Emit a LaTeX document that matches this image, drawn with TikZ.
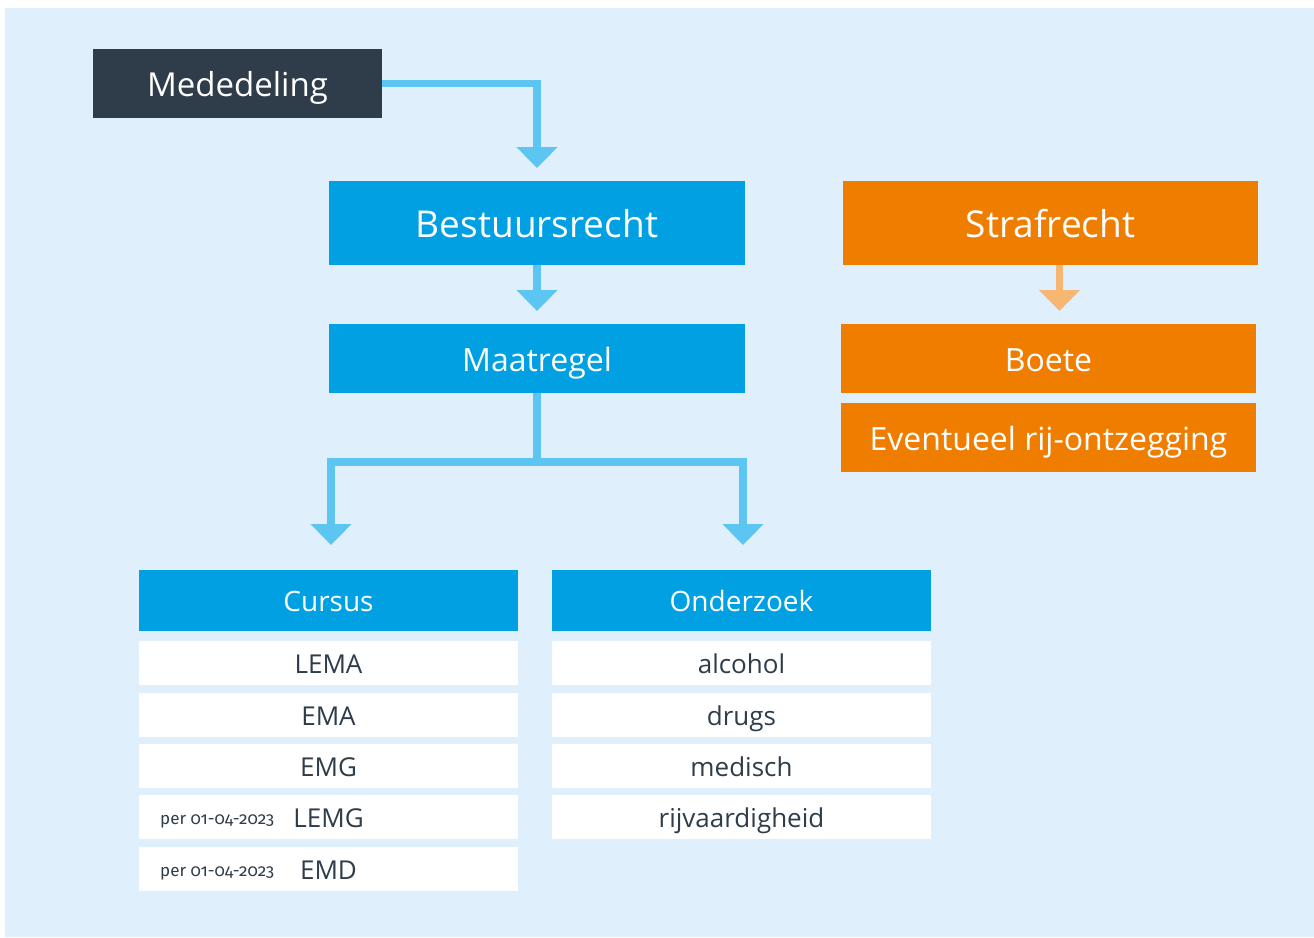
\documentclass[tikz,border=0pt]{standalone}
\usepackage{fontspec}
\setmainfont{Open Sans}
\newfontfamily\perfont[Numbers=OldStyle]{Fira Sans}
\usetikzlibrary{arrows.meta}
\definecolor{bgblue}{HTML}{DFF0FC}
\definecolor{boxblue}{HTML}{00A0E3}
\definecolor{arrblue}{HTML}{5DC5F2}
\definecolor{darkbox}{HTML}{2F3D4A}
\definecolor{orangebox}{HTML}{EF7D00}
\definecolor{arrorange}{HTML}{F8B673}
\tikzset{
  fs/.style n args={3}{font=\fontsize{#1}{#1}\selectfont, text height=#2pt, text depth=#3pt},
  box/.style={rectangle, inner sep=0pt, outer sep=0pt, text=white},
  rowbox/.style={rectangle, fill=white, inner sep=0pt, outer sep=0pt, text=darkbox,
    minimum width=379pt, minimum height=44pt, fs={26}{23.4}{2.6}},
  headbox/.style={box, fill=boxblue, minimum width=379pt, minimum height=61pt, fs={28}{25.2}{2.8}},
  pertext/.style={inner sep=0pt, text=darkbox, font=\perfont\fontsize{17}{19}\selectfont},
  conn/.style={line width=7.5pt, arrblue, -{Triangle[width=40pt,length=21pt]}},
  connor/.style={line width=7.5pt, arrorange, -{Triangle[width=40pt,length=21pt]}},
}
\begin{document}
\begin{tikzpicture}[x=1pt,y=-1pt]
\useasboundingbox (0,0) rectangle (1314,937);
\fill[white] (0,0) rectangle (1314,937);
\fill[bgblue] (5,8) rectangle (1314,937);

\node[box, fill=darkbox, minimum width=289pt, minimum height=69pt, fs={33}{29.7}{3.3}] (med) at (237.5,83.5) {Mededeling};
\node[box, fill=boxblue, minimum width=416pt, minimum height=84pt, fs={37}{33.3}{3.7}] (best) at (537,223) {Bestuursrecht};
\node[box, fill=orangebox, minimum width=415pt, minimum height=84pt, fs={37}{33.3}{3.7}] (straf) at (1050.5,223) {Strafrecht};
\node[box, fill=boxblue, minimum width=416pt, minimum height=69pt, fs={32}{28.8}{3.2}] (maat) at (537,358.5) {Maatregel};
\node[box, fill=orangebox, minimum width=415pt, minimum height=69pt, fs={32}{28.8}{3.2}] (boete) at (1048.5,358.5) {Boete};
\node[box, fill=orangebox, minimum width=415pt, minimum height=69pt, fs={32}{28.8}{3.2}] (event) at (1048.5,437.5) {Eventueel rij-ontzegging};

\node[headbox] (cursus) at (328.5,600.5) {Cursus};
\node[rowbox] (lema) at (328.5,663) {LEMA};
\node[rowbox] (ema) at (328.5,715) {EMA};
\node[rowbox] (emg) at (328.5,766) {EMG};
\node[rowbox] (lemg) at (328.5,817) {LEMG};
\node[rowbox] (emd) at (328.5,869) {EMD};

\node[headbox] (onder) at (741.5,600.5) {Onderzoek};
\node[rowbox] (alc) at (741.5,663) {alcohol};
\node[rowbox] (drugs) at (741.5,715) {drugs};
\node[rowbox] (med2) at (741.5,766) {medisch};
\node[rowbox] (rij) at (741.5,817) {rijvaardigheid};

\coordinate (px) at (160,0);
\node[pertext, anchor=base west, yshift=3pt] (per1) at (px |- lemg.base) {per 01-04-2023};
\node[pertext, anchor=base west, yshift=3pt] (per2) at (px |- emd.base) {per 01-04-2023};

\coordinate (split) at (537,462);
\draw[conn, shorten >=13pt] (med.east) -| (best.north);
\draw[conn, shorten >=13pt] (best.south) -- (maat.north);
\draw[connor, shorten >=13pt] ([xshift=9pt]straf.south) -- ([xshift=11pt]boete.north);
\draw[line width=7.5pt, arrblue] (maat.south) -- (split);
\draw[conn, shorten >=25pt] (split) -| ([xshift=2.5pt]cursus.north);
\draw[conn, shorten >=25pt] (split) -| ([xshift=1.5pt]onder.north);
\end{tikzpicture}
\end{document}
